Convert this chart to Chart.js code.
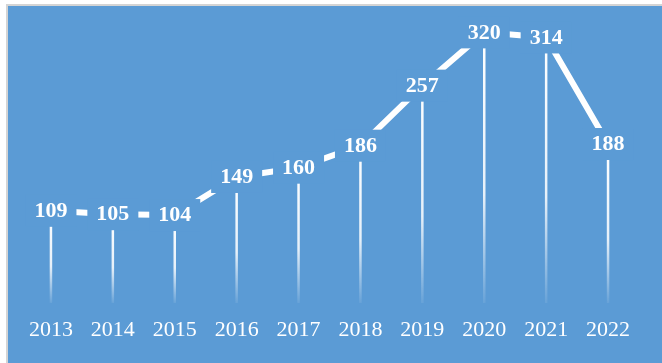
<!DOCTYPE html>
<html>
<head>
<meta charset="utf-8">
<script src="https://cdn.jsdelivr.net/npm/chart.js@4"></script>
<style>
  html, body { margin: 0; padding: 0; background: #ffffff; }
  #frame {
    position: absolute; left: 6px; top: 4px;
    width: 656px; height: 359px;
    border-top: 2px solid #d4d4d4; border-left: 2px solid #d4d4d4;
    box-sizing: border-box;
  }
  #wrap {
    position: absolute; left: 8px; top: 6px;
    width: 654px; height: 357px;
    background: #5b9bd5;
  }
</style>
</head>
<body>
<div id="frame"></div>
<div id="wrap"><canvas id="c"></canvas></div>
<script>
// Yearly totals, 2013–2022
const years = ['2013', '2014', '2015', '2016', '2017', '2018', '2019', '2020', '2021', '2022'];
const totals = [109, 105, 104, 149, 160, 186, 257, 320, 314, 188];

const BG = '#5b9bd5';
const SERIF = '"Liberation Serif", "Times New Roman", serif';

// Vertical drop lines from each point down to the baseline, fading out
const dropLines = {
  id: 'dropLines',
  beforeDatasetsDraw(chart) {
    const { ctx } = chart;
    const meta = chart.getDatasetMeta(0);
    const base = chart.scales.y.getPixelForValue(0);
    ctx.save();
    ctx.lineWidth = 2.5;
    meta.data.forEach((pt) => {
      const g = ctx.createLinearGradient(0, pt.y, 0, base);
      g.addColorStop(0, 'rgba(255,255,255,1)');
      g.addColorStop(0.6, 'rgba(255,255,255,0.85)');
      g.addColorStop(1, 'rgba(255,255,255,0.08)');
      ctx.strokeStyle = g;
      ctx.beginPath();
      ctx.moveTo(pt.x, pt.y);
      ctx.lineTo(pt.x, base);
      ctx.stroke();
    });
    ctx.restore();
  }
};

// Value labels centred on each point, on a box of the background colour
const valueLabels = {
  id: 'valueLabels',
  afterDatasetsDraw(chart) {
    const { ctx } = chart;
    const meta = chart.getDatasetMeta(0);
    const values = chart.data.datasets[0].data;
    ctx.save();
    ctx.font = 'bold 22px ' + SERIF;
    ctx.textAlign = 'center';
    ctx.textBaseline = 'middle';
    meta.data.forEach((pt, i) => {
      const txt = String(values[i]);
      const w = ctx.measureText(txt).width + 18;
      const h = 32;
      ctx.fillStyle = BG;
      ctx.fillRect(pt.x - w / 2, pt.y - h / 2, w, h);
      ctx.fillStyle = '#ffffff';
      ctx.fillText(txt, pt.x, pt.y + 0.5);
    });
    ctx.restore();
  }
};

new Chart(document.getElementById('c'), {
  type: 'line',
  data: {
    labels: years,
    datasets: [{
      data: totals,
      borderColor: '#ffffff',
      borderWidth: 6,
      borderCapStyle: 'butt',
      pointRadius: 0,
      tension: 0,
      fill: false
    }]
  },
  options: {
    responsive: true,
    maintainAspectRatio: false,
    animation: false,
    layout: { padding: { left: 12, right: 23, top: 1, bottom: 0 } },
    plugins: { legend: { display: false }, tooltip: { enabled: false } },
    scales: {
      x: {
        offset: true,
        grid: { display: false, drawTicks: false },
        border: { display: false },
        afterFit(scale) { scale.height = 60; },
        ticks: {
          color: '#ffffff',
          padding: 14,
          maxRotation: 0,
          autoSkip: false,
          font: { family: SERIF, size: 22 }
        }
      },
      y: {
        display: false,
        min: 0,
        max: 350
      }
    }
  },
  plugins: [dropLines, valueLabels]
});
</script>
</body>
</html>
